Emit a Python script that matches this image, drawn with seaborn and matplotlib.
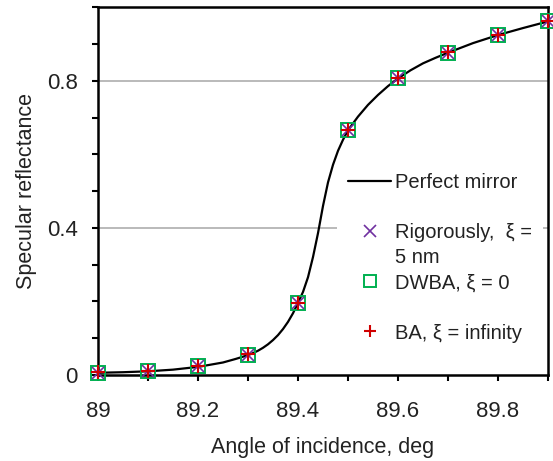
import matplotlib
matplotlib.use("Agg")
import matplotlib.pyplot as plt
from matplotlib.lines import Line2D
import seaborn as sns
import pandas as pd

# ---- data ----
angles = [89.0, 89.1, 89.2, 89.3, 89.4, 89.5, 89.6, 89.7, 89.8, 89.9]
rigorous = [0.006, 0.012, 0.024, 0.055, 0.196, 0.666, 0.807, 0.877, 0.925, 0.962]
dwba = [0.006, 0.012, 0.024, 0.055, 0.196, 0.666, 0.808, 0.877, 0.925, 0.962]
ba = [0.007, 0.012, 0.025, 0.056, 0.197, 0.667, 0.808, 0.878, 0.926, 0.963]

mirror_angle = [89.00, 89.05, 89.10, 89.15, 89.20, 89.25, 89.275, 89.30,
                89.31, 89.32, 89.33, 89.34, 89.35, 89.36, 89.37, 89.38, 89.39,
                89.40, 89.41, 89.42, 89.43, 89.44, 89.45, 89.46, 89.47, 89.48,
                89.49, 89.50, 89.52, 89.54, 89.56, 89.58, 89.60, 89.625, 89.65,
                89.675, 89.70, 89.75, 89.80, 89.85, 89.90]
mirror_refl = [0.006, 0.0075, 0.010, 0.0145, 0.022, 0.034, 0.0435, 0.054,
               0.0595, 0.066, 0.074, 0.0835, 0.095, 0.1085, 0.125, 0.1445, 0.168,
               0.196, 0.226, 0.266, 0.321, 0.386, 0.460, 0.524, 0.572, 0.610,
               0.640, 0.666, 0.703, 0.735, 0.762, 0.786, 0.807, 0.829, 0.848,
               0.863, 0.877, 0.903, 0.925, 0.944, 0.962]

x_ticks = [89.0, 89.2, 89.4, 89.6, 89.8]
x_tick_labels = ["89", "89.2", "89.4", "89.6", "89.8"]
y_ticks = [0.0, 0.4, 0.8]
y_tick_labels = ["0", "0.4", "0.8"]

labels = ["Perfect mirror", "Rigorously,  \u03be =", "5 nm", "DWBA, \u03be = 0",
          "BA, \u03be = infinity"]

# ---- style ----
sns.set_style("white")
plt.rcParams["font.family"] = ["Liberation Sans", "DejaVu Sans"]
TXT = "#222222"
PURPLE = "#7030A0"
GREEN = "#00B050"
RED = "#D00000"

fig = plt.figure(figsize=(5.53, 4.61), dpi=100)
ax = fig.add_axes([0.1772, 0.1866, 0.8138, 0.7972])

ax.axhline(0.4, color="#b4b4b4", lw=1.3, zorder=0)
ax.axhline(0.8, color="#b4b4b4", lw=1.3, zorder=0)

df_m = pd.DataFrame({"angle": mirror_angle, "R": mirror_refl})
sns.lineplot(data=df_m, x="angle", y="R", ax=ax, color="black", lw=1.6,
             sort=False, estimator=None, zorder=2)

df_p = pd.DataFrame({"angle": angles, "rig": rigorous, "dwba": dwba, "ba": ba})
sns.lineplot(data=df_p, x="angle", y="dwba", ax=ax, linestyle="", marker="s",
             markersize=9.5, markerfacecolor="none", markeredgecolor=GREEN,
             markeredgewidth=1.4, estimator=None, clip_on=False, zorder=3)
sns.lineplot(data=df_p, x="angle", y="rig", ax=ax, linestyle="", marker="x",
             markersize=8, markeredgecolor=PURPLE, color=PURPLE,
             markeredgewidth=1.2, estimator=None, clip_on=False, zorder=4)
sns.lineplot(data=df_p, x="angle", y="ba", ax=ax, linestyle="", marker="+",
             markersize=10, markeredgecolor=RED, color=RED,
             markeredgewidth=1.5, estimator=None, clip_on=False, zorder=5)

ax.set_xlim(89.0, 89.9)
ax.set_ylim(0.0, 1.0)
ax.set_xticks([89.0 + 0.1 * i for i in range(10)], minor=True)
ax.set_yticks([0.1 * i for i in range(11)], minor=True)
ax.set_xticks(x_ticks)
ax.set_xticklabels(x_tick_labels)
ax.set_yticks(y_ticks)
ax.set_yticklabels(y_tick_labels)
ax.tick_params(axis="both", which="both", direction="out", length=4,
               width=1.5, color="black", bottom=True, left=True)
ax.tick_params(axis="both", which="major", labelsize=16, labelcolor=TXT)
ax.tick_params(axis="x", which="major", pad=15)
ax.tick_params(axis="y", which="major", pad=10.5)

for s in ax.spines.values():
    s.set_visible(True)
    s.set_color("black")
    s.set_linewidth(1.8)

ax.set_xlabel("Angle of incidence, deg", fontsize=15.5, color=TXT)
ax.set_ylabel("Specular reflectance", fontsize=15.5, color=TXT)
ax.xaxis.set_label_coords(0.5, -0.168)
ax.yaxis.set_label_coords(-0.135, 0.5)

blank = Line2D([], [], linestyle="none")
handles = [
    Line2D([], [], color="black", lw=1.6),
    blank,
    Line2D([], [], linestyle="none", marker="x", markersize=8,
           markeredgecolor=PURPLE, markeredgewidth=1.2),
    blank,
    Line2D([], [], linestyle="none", marker="s", markersize=9,
           markerfacecolor="none", markeredgecolor=GREEN, markeredgewidth=1.4),
    blank,
    Line2D([], [], linestyle="none", marker="+", markersize=9,
           markeredgecolor=RED, markeredgewidth=1.5),
]
leg_labels = [labels[0], "", labels[1], labels[2], labels[3], "", labels[4]]
leg = ax.legend(handles, leg_labels, loc="upper left",
                bbox_to_anchor=(0.531, 0.579), borderaxespad=0,
                borderpad=0.55, fontsize=14.5, labelspacing=0.3,
                handlelength=2.14, handletextpad=0.2, numpoints=1,
                frameon=True, facecolor="white", edgecolor="none",
                framealpha=1, fancybox=False)
for t in leg.get_texts():
    t.set_color(TXT)
leg.set_zorder(1)

fig.savefig("out.png", dpi=100)
